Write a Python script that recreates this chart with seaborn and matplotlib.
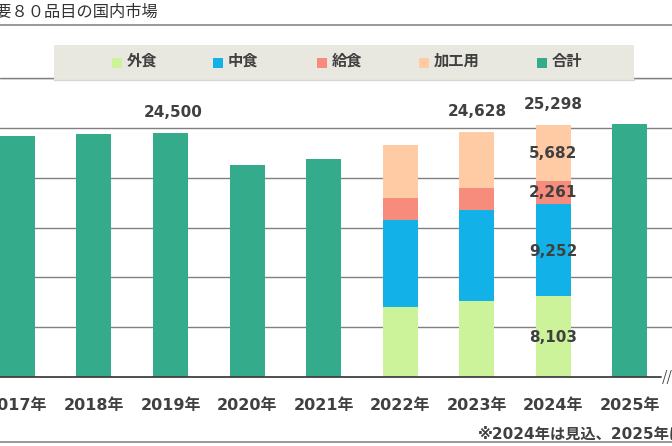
import matplotlib
matplotlib.use("Agg")
import matplotlib.pyplot as plt
import seaborn as sns
import pandas as pd
import numpy as np
from matplotlib.lines import Line2D
from matplotlib.patches import Rectangle

years = ["2017年", "2018年", "2019年", "2020年", "2021年", "2022年", "2023年", "2024年", "2025年"]
total_years = ["2017年", "2018年", "2019年", "2020年", "2021年", "2025年"]
total_values = [24200, 24370, 24500, 21230, 21870, 25430]
split_years = ["2022年", "2023年", "2024年"]
gaishoku = [7000, 7600, 8103]      # 外食
nakashoku = [8800, 9200, 9252]     # 中食
kyushoku = [2130, 2130, 2261]      # 給食
kakou = [5370, 5698, 5682]         # 加工用
series_names = ["外食", "中食", "給食", "加工用", "合計"]
colors = ["#CCF29A", "#12B2E8", "#F78C7C", "#FFCBA4", "#34AB8A"]
title = "主要８０品目の国内市場"
footnote = "※2024年は見込、2025年は予測"

sns.set_theme(style="white")
plt.rcParams['font.family'] = ['Noto Sans CJK JP', 'DejaVu Sans']
MIX = ['DejaVu Sans', 'Noto Sans CJK JP']

W, H = 672, 446
fig = plt.figure(figsize=(W / 100, H / 100), dpi=100)
ax = fig.add_axes([0, (H - 377) / H, 1, (377 - 78) / H])

# stacked: draw cumulative from back to front
c1 = np.array(gaishoku)
c2 = c1 + np.array(nakashoku)
c3 = c2 + np.array(kyushoku)
c4 = c3 + np.array(kakou)
width = 0.457
sns.barplot(x=total_years, y=total_values, order=years, color=colors[4], width=width,
            saturation=1, linewidth=0, ax=ax)
for cum, col in [(c4, colors[3]), (c3, colors[2]), (c2, colors[1]), (c1, colors[0])]:
    sns.barplot(x=split_years, y=list(cum), order=years, color=col, width=width,
                saturation=1, linewidth=0, ax=ax)

spacing = 76.57
c0 = 17.4
ax.set_xlim(-c0 / spacing, (W - c0) / spacing)
ax.set_ylim(0, 30000)
ax.set_yticks(np.arange(5000, 30001, 5000))
ax.yaxis.grid(True, color="#808080", linewidth=1.0)
ax.set_axisbelow(True)
ax.set_yticklabels([])
ax.tick_params(axis='y', length=0)
for s in ax.spines.values():
    s.set_visible(False)
ax.axhline(0, xmax=661 / W, color="#404040", linewidth=1.3, zorder=5, clip_on=False)
ax.set_xlabel("")
ax.set_ylabel("")
ax.tick_params(axis='x', length=0, pad=15)
for lbl in ax.get_xticklabels():
    lbl.set_fontsize(11.5)
    lbl.set_fontweight('bold')
    lbl.set_color('#404040')
    lbl.set_family(MIX)

lab = dict(ha='center', va='center', fontsize=11, fontweight='bold', color='#404040', family=MIX)
i2019 = years.index("2019年")
ax.text(i2019 + 0.04, total_values[total_years.index("2019年")] + 2000, f"{total_values[2]:,}", **lab)
for k, y in enumerate(split_years):
    i = years.index(y)
    if y == "2023年":
        ax.text(i, c4[k] + 2000, f"{c4[k]:,}", **lab)
    if y == "2024年":
        ax.text(i, c4[k] + 2000, f"{c4[k]:,}", **lab)
        ax.text(i, (c3[k] + c4[k]) / 2, f"{kakou[k]:,}", **lab)
        ax.text(i, (c2[k] + c3[k]) / 2, f"{kyushoku[k]:,}", **lab)
        ax.text(i, (c1[k] + c2[k]) / 2 - 100, f"{nakashoku[k]:,}", **lab)
        ax.text(i, c1[k] / 2 - 100, f"{gaishoku[k]:,}", **lab)

# break mark
fig.text(667 / W, 1 - 377 / H, "//", ha='center', va='center', fontsize=10, color='#404040')

# top line (30000) full width, title line, bottom line
fig.add_artist(Line2D([0, 1], [1 - 78 / H, 1 - 78 / H], color="#808080", linewidth=1.0))
fig.add_artist(Line2D([0, 1], [1 - 25 / H, 1 - 25 / H], color="#888888", linewidth=1.2))
fig.add_artist(Line2D([0, 1], [1 - 442 / H, 1 - 442 / H], color="#888888", linewidth=1.2))

# title
fig.text(158 / W, 1 - 12 / H, title, ha='right', va='center', fontsize=11.7, color='#333333')

# legend box
fig.add_artist(Rectangle((54 / W, 1 - 81 / H), (634 - 54) / W, 36 / H,
                         facecolor="#E8E8E0", edgecolor="none", zorder=10))
fig.add_artist(Line2D([54 / W, 634 / W], [1 - 80 / H, 1 - 80 / H], color="#D8D8D0",
                      linewidth=1.0, zorder=11))
marker_x = [112, 213, 317, 419, 537]
for mx, name, col in zip(marker_x, series_names, colors):
    fig.add_artist(Rectangle((mx / W, 1 - 68 / H), 10 / W, 10 / H, facecolor=col,
                             edgecolor="none", zorder=11))
    fig.text((mx + 15) / W, 1 - 61 / H, name, ha='left', va='center', fontsize=11,
             fontweight='bold', color='#404040', zorder=12)

# footnote
fig.text(478 / W, 1 - 434 / H, footnote, ha='left', va='center', fontsize=11,
         fontweight='bold', color='#404040', family=MIX)

fig.savefig("out.png", dpi=100)
